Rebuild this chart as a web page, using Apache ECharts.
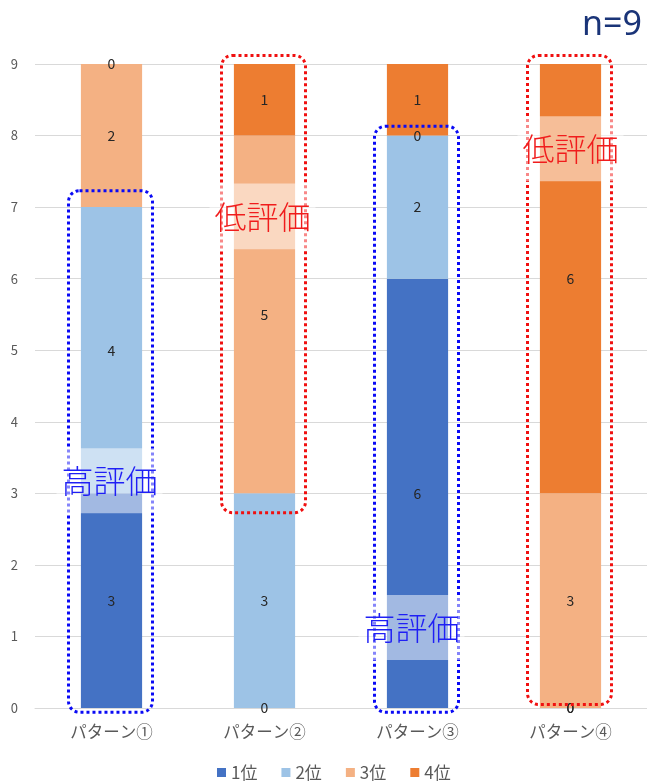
<!DOCTYPE html>
<html><head><meta charset="utf-8">
<script src="https://cdn.jsdelivr.net/npm/echarts@6/dist/echarts.min.js"></script>
<style>html,body{margin:0;padding:0;background:#fff}#c{width:647px;height:782px}</style>
</head><body><div id="c"></div>
<script>
const categories = ['パターン①','パターン②','パターン③','パターン④'];
const seriesNames = ['1位','2位','3位','4位'];
const rank1 = [3, 0, 6, 0];
const rank2 = [4, 3, 2, 0];
const rank3 = [2, 5, 0, 3];
const rank4 = [0, 1, 1, 6];
const yTicks = [0,1,2,3,4,5,6,7,8,9];
const sampleLabel = 'n=9';

const colors = ['#4472C4','#9DC3E6','#F4B183','#ED7D31'];
const FONT = '"Noto Sans CJK JP","Noto Sans",sans-serif';

// annotation specs: category index, value range
const frames = [
  {cat:0, lo:-0.06, hi:7.23, color:'#0A0AF5'},
  {cat:1, lo:2.73, hi:9.12, color:'#F01010'},
  {cat:2, lo:-0.06, hi:8.13, color:'#0A0AF5'},
  {cat:3, lo:0.05, hi:9.12, color:'#F01010'}
];
const notes = [
  {cat:0, lo:2.72, hi:3.63, text:'高評価', color:'#1F1FF5', dx:-2},
  {cat:1, lo:6.41, hi:7.33, text:'低評価', color:'#F01C1C', dx:-2},
  {cat:2, lo:0.67, hi:1.58, text:'高評価', color:'#1F1FF5', dx:-6},
  {cat:3, lo:7.36, hi:8.27, text:'低評価', color:'#F01C1C', dx:0}
];

const dataSets = [rank1, rank2, rank3, rank4];
const chart = echarts.init(document.getElementById('c'));
chart.setOption({
  animation:false,
  textStyle:{fontFamily:FONT},
  grid:{left:35, right:-1, top:64, bottom:74},
  legend:{
    data:seriesNames, bottom:0, left:212, padding:[5,5,1,5],
    itemWidth:9, itemHeight:9, itemGap:24, icon:'rect',
    textStyle:{fontSize:17, color:'#595959', fontFamily:FONT}
  },
  xAxis:{
    type:'category', data:categories,
    axisLine:{lineStyle:{color:'#D9D9D9'}}, axisTick:{show:false},
    axisLabel:{fontSize:16.5, color:'#595959', margin:15, fontFamily:FONT}
  },
  yAxis:{
    type:'value', min:yTicks[0], max:yTicks[yTicks.length-1], interval:1,
    axisLine:{show:false}, axisTick:{show:false},
    splitLine:{lineStyle:{color:'#D9D9D9'}},
    axisLabel:{fontSize:13, color:'#595959', margin:17}
  },
  series: seriesNames.map((n,i)=>({
    name:n, type:'bar', stack:'all', barWidth:'40%',
    data:dataSets[i],
    itemStyle:{color:colors[i]},
    label:{show:true, position:'inside', color:'#262626', fontSize:14}
  }))
});

function drawAnnotations(){
  const g = [];
  const halfW = 42;
  frames.forEach(f=>{
    const top = chart.convertToPixel({gridIndex:0},[f.cat, f.hi]);
    const bot = chart.convertToPixel({gridIndex:0},[f.cat, f.lo]);
    const cx = top[0] - 1;
    g.push({type:'rect', z:100, shape:{x:cx-halfW, y:top[1], width:halfW*2, height:bot[1]-top[1], r:11},
      style:{fill:'none', stroke:f.color, lineWidth:3, lineDash:[3,3]}});
  });
  notes.forEach(n=>{
    const top = chart.convertToPixel({gridIndex:0},[n.cat, n.hi]);
    const bot = chart.convertToPixel({gridIndex:0},[n.cat, n.lo]);
    const cx = top[0] + n.dx;
    const w = 106;
    g.push({type:'rect', z:110, shape:{x:cx-w/2, y:top[1], width:w, height:bot[1]-top[1]},
      style:{fill:'rgba(255,255,255,0.5)', stroke:'none'}});
    g.push({type:'text', z:120, x:cx, y:(top[1]+bot[1])/2,
      style:{text:n.text, fill:n.color, fontSize:32, fontWeight:300, fontFamily:FONT, align:'center', verticalAlign:'middle'}});
  });
  g.push({type:'text', z:120, right:5, top:8,
    style:{text:sampleLabel, fill:'#1A3478', fontSize:34, fontFamily:'"Noto Sans",sans-serif'}});
  chart.setOption({graphic:g});
}
drawAnnotations();
</script></body></html>
